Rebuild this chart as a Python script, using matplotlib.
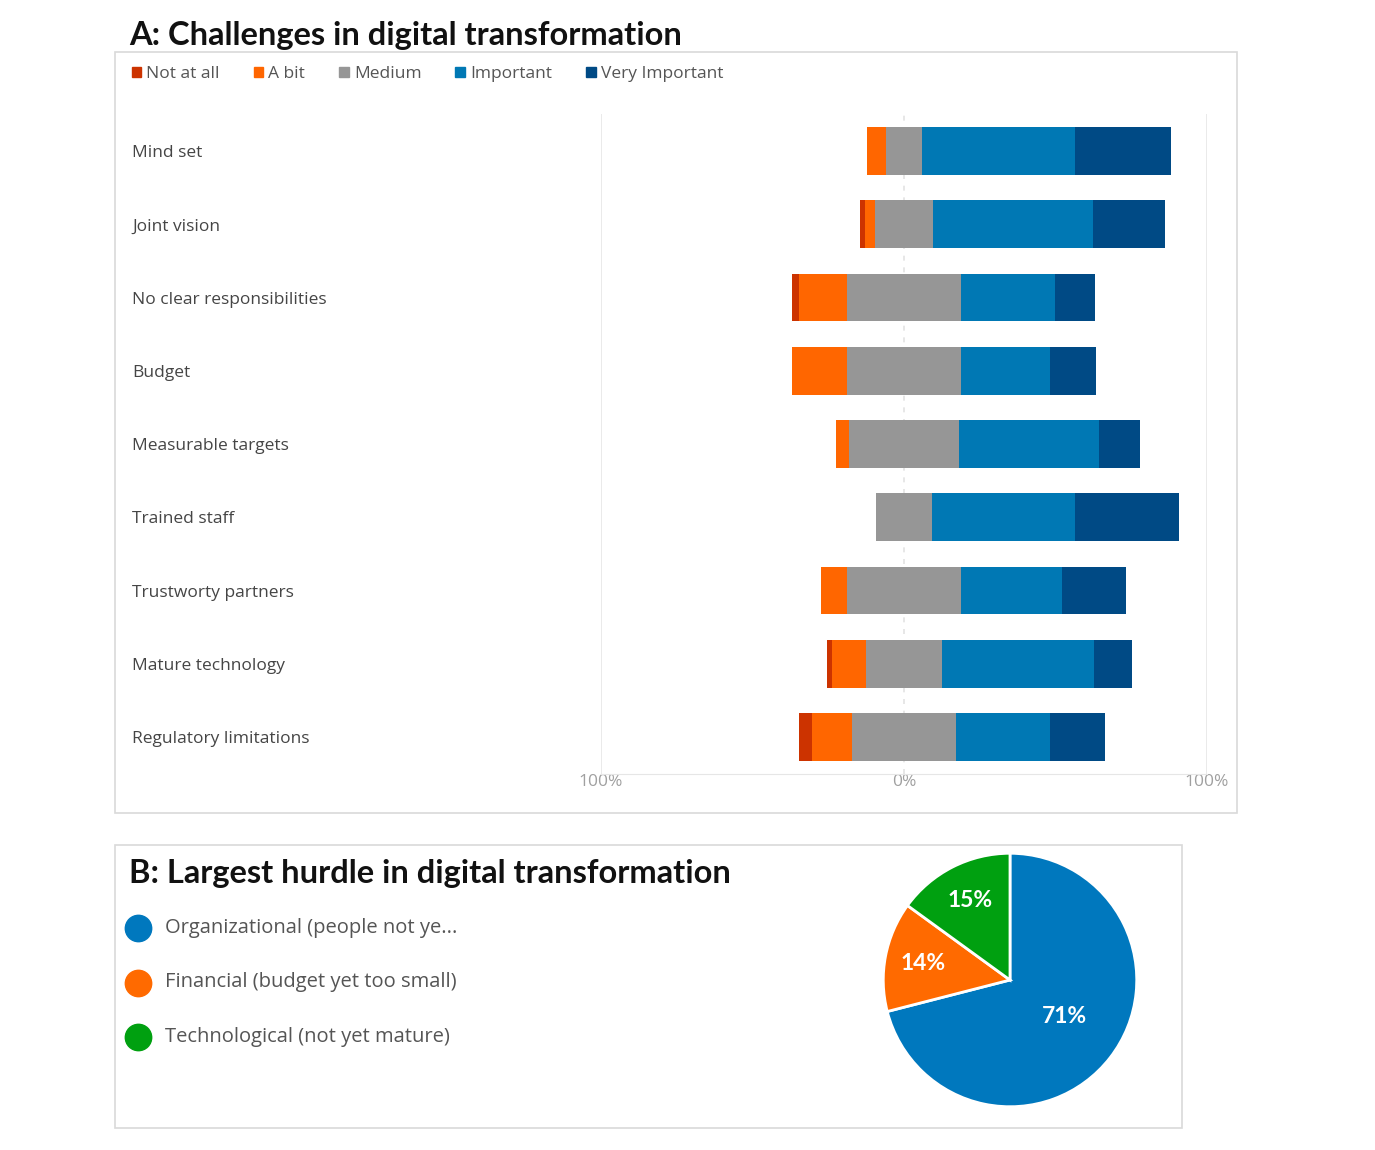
import numpy as np
import matplotlib.pyplot as plt
from matplotlib.patches import Rectangle, Patch
from matplotlib.lines import Line2D
import matplotlib.transforms as mtransforms

# survey answers in percent
categories = ['Mind set', 'Joint vision', 'No clear responsibilities', 'Budget',
              'Measurable targets', 'Trained staff', 'Trustworty partners',
              'Mature technology', 'Regulatory limitations']
not_at_all = [0.0, 1.4, 2.2, 0.0, 0.0, 0.0, 0.0, 1.7, 4.3]
a_bit = [6.1, 3.5, 16.0, 18.2, 4.1, 0.0, 8.7, 11.2, 13.0]
medium = [12.2, 19.0, 37.5, 37.5, 36.5, 18.2, 37.4, 25.1, 34.5]
important = [50.4, 53.0, 31.0, 29.4, 46.0, 47.5, 33.5, 50.3, 30.8]
very_important = [31.7, 23.8, 13.4, 15.1, 13.5, 34.3, 21.0, 12.3, 18.2]
levels = ['Not at all', 'A bit', 'Medium', 'Important', 'Very Important']
level_colors = ['#cc3300', '#ff6600', '#969696', '#0078b4', '#004a85']

hurdles = ['Organizational (people not ye...', 'Financial (budget yet too small)',
           'Technological (not yet mature)']
hurdle_share = [71, 14, 15]
hurdle_colors = ['#0078be', '#ff6a00', '#00a010']

W, H = 1375, 1150
fig = plt.figure(figsize=(W / 100, H / 100), dpi=100)


def fx(px):
    return px / W


def fy(py):
    return 1 - py / H


# panel frames
fig.patches.append(Rectangle((fx(115), fy(813)), fx(1237) - fx(115), fy(52) - fy(813),
                             transform=fig.transFigure, fill=False, ec='#d9d9d9', lw=1.2))
fig.patches.append(Rectangle((fx(115), fy(1128)), fx(1182) - fx(115), fy(845) - fy(1128),
                             transform=fig.transFigure, fill=False, ec='#d9d9d9', lw=1.2))

title_font = dict(family='Lato', weight='bold', size=23.5, color='#111111')
fig.text(fx(129), fy(36), 'A: Challenges in digital transformation', va='center', **title_font)
fig.text(fx(129), fy(873), 'B: Largest hurdle in digital transformation', va='center', **title_font)

# A: diverging stacked bars, Medium centred on zero
ax = fig.add_axes([fx(601), fy(773.6), fx(1207) - fx(601), fy(114.4) - fy(773.6)])
data = np.array([not_at_all, a_bit, medium, important, very_important])
y = np.arange(len(categories))
left = -(data[0] + data[1] + data[2] / 2)
for vals, col in zip(data, level_colors):
    ax.barh(y, vals, left=left, height=0.655, color=col)
    left = left + vals

ax.set_xlim(-100, 100)
ax.set_ylim(len(categories) - 0.5, -0.5)
for xv in (-100, 100):
    ax.axvline(xv, color='#e6e6e6', lw=1.2, zorder=0)
ax.axvline(0, color='#e3e3e3', lw=1.2, ls=(0, (3, 4)), zorder=0)
for s in ['top', 'left', 'right']:
    ax.spines[s].set_visible(False)
ax.spines['bottom'].set_color('#e6e6e6')
ax.set_yticks([])
ax.set_xticks([-100, 0, 100])
ax.set_xticklabels(['100%', '0%', '100%'], color='#a0a0a0', fontsize=12.5, family='Open Sans')
ax.tick_params(axis='x', length=0, pad=0)

trans = mtransforms.blended_transform_factory(fig.transFigure, ax.transData)
for yi, name in zip(y, categories):
    ax.text(fx(132), yi + 0.03, name, transform=trans, ha='left', va='center',
            fontsize=12.5, color='#454545', family='Open Sans')

handles = [Patch(color=c) for c in level_colors]
fig.legend(handles, levels, loc='center left', bbox_to_anchor=(fx(116), fy(74)), ncol=5,
           frameon=False, handlelength=0.55, handleheight=0.55, handletextpad=0.3,
           columnspacing=1.95, prop=dict(family='Open Sans', size=12.5), labelcolor='#555555')

# B: pie
pax = fig.add_axes([fx(882), fy(1108), fx(1138) - fx(882), fy(852) - fy(1108)])
wedges, _ = pax.pie(hurdle_share, colors=hurdle_colors, startangle=90, counterclock=False,
                    wedgeprops=dict(edgecolor='white', linewidth=2))
dist = [0.52, 0.7, 0.7]
for w, v, d in zip(wedges, hurdle_share, dist):
    ang = np.deg2rad((w.theta1 + w.theta2) / 2 + 4 * (v == 71))
    pax.text(d * np.cos(ang), d * np.sin(ang), f'{v}%', ha='center', va='center',
             color='white', fontsize=16.5, weight='bold', family='Lato')
pax.set_aspect('equal')
pax.set_xlim(-1.01, 1.01)
pax.set_ylim(-1.01, 1.01)

for i, (name, col) in enumerate(zip(hurdles, hurdle_colors)):
    py = 928 + i * 54.5
    fig.add_artist(Line2D([fx(138)], [fy(py)], marker='o', markersize=19, color=col,
                          transform=fig.transFigure))
    fig.text(fx(165), fy(py), name, va='center', ha='left', fontsize=14.5,
             color='#555555', family='Open Sans')

fig.savefig('out.png', dpi=100)
